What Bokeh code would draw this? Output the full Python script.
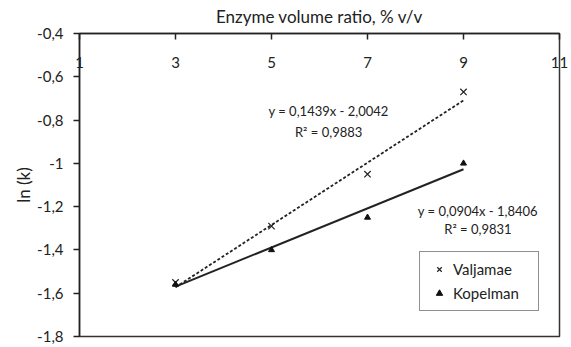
from bokeh.plotting import figure
from bokeh.models import (LinearAxis, FixedTicker, Range1d, Label, Legend, LegendItem)
from bokeh.embed import file_html
from bokeh.resources import INLINE

# ---- data ----
x_vals = [3, 5, 7, 9]
valjamae = [-1.55, -1.29, -1.05, -0.67]
kopelman = [-1.56, -1.40, -1.25, -1.00]
slopes = {"Valjamae": 0.1439, "Kopelman": 0.0904}
intercepts = {"Valjamae": -2.0042, "Kopelman": -1.8406}
r2 = {"Valjamae": "0,9883", "Kopelman": "0,9831"}
x_ticks = [1, 3, 5, 7, 9, 11]
y_ticks = [-1.8, -1.6, -1.4, -1.2, -1.0, -0.8, -0.6, -0.4]
y_tick_labels = ["-1,8", "-1,6", "-1,4", "-1,2", "-1", "-0,8", "-0,6", "-0,4"]
x_title = "Enzyme volume ratio, % v/v"
y_title = "ln (k)"

FONT = "Lato"
TXT = "#222222"

p = figure(width=571, height=347, output_backend="svg", toolbar_location=None,
           x_range=Range1d(1, 11), y_range=Range1d(-1.8, -0.4),
           x_axis_location=None, y_axis_location=None,
           min_border_left=79, min_border_right=12, min_border_top=33, min_border_bottom=11)
p.grid.visible = False
p.outline_line_color = "#333333"
p.outline_line_width = 1.5
p.background_fill_color = "white"
p.border_fill_color = "white"

xaxis = LinearAxis(ticker=FixedTicker(ticks=x_ticks), axis_label=x_title)
xaxis.major_tick_in = 6
xaxis.major_tick_out = 0
xaxis.minor_tick_in = 0
xaxis.minor_tick_out = 0
xaxis.major_label_standoff = -34
xaxis.axis_label_standoff = 27
xaxis.axis_line_color = "#222222"
xaxis.axis_line_width = 1.5
xaxis.major_tick_line_color = "#222222"
xaxis.major_tick_line_width = 1.5
xaxis.major_label_text_font = FONT
xaxis.major_label_text_font_size = "15px"
xaxis.major_label_text_color = TXT
xaxis.axis_label_text_font = FONT
xaxis.axis_label_text_font_size = "17px"
xaxis.axis_label_text_font_style = "normal"
xaxis.axis_label_text_color = TXT
p.add_layout(xaxis, "above")

yaxis = LinearAxis(ticker=FixedTicker(ticks=y_ticks), axis_label=y_title)
yaxis.major_label_overrides = {t: l for t, l in zip(y_ticks, y_tick_labels)}
yaxis.major_tick_in = 0
yaxis.major_tick_out = 6
yaxis.minor_tick_in = 0
yaxis.minor_tick_out = 0
yaxis.major_label_standoff = 10
yaxis.axis_label_standoff = 0
yaxis.axis_line_color = "#222222"
yaxis.axis_line_width = 1.5
yaxis.major_tick_line_color = "#222222"
yaxis.major_tick_line_width = 1.5
yaxis.major_label_text_font = FONT
yaxis.major_label_text_font_size = "15px"
yaxis.major_label_text_color = TXT
yaxis.axis_label_text_font = FONT
yaxis.axis_label_text_font_size = "17px"
yaxis.axis_label_text_font_style = "normal"
yaxis.axis_label_text_color = TXT
p.add_layout(yaxis, "left")

# trend lines
x0, x1 = min(x_vals), max(x_vals)
tx = [x0, x1]
tv = [slopes["Valjamae"] * x + intercepts["Valjamae"] for x in tx]
tk = [slopes["Kopelman"] * x + intercepts["Kopelman"] for x in tx]
p.line(tx, tv, line_color="#222222", line_width=1.8, line_dash="3 2")
p.line(tx, tk, line_color="#222222", line_width=2)

r_v = p.scatter(x_vals, valjamae, marker="x", size=9, line_color="#222222", line_width=1.2)
r_k = p.scatter(x_vals, kopelman, marker="triangle", size=6, fill_color="#111111",
                line_color="#111111")

def eq_text(name):
    b = intercepts[name]
    sign = "-" if b < 0 else "+"
    s = f"{slopes[name]:.4f}".replace(".", ",")
    bb = f"{abs(b):.4f}".replace(".", ",")
    return f"y = {s}x {sign} {bb}"

for name, (lx, ly1, ly2) in {"Valjamae": (6.19, -0.756, -0.857),
                             "Kopelman": (9.30, -1.218, -1.305)}.items():
    p.add_layout(Label(x=lx, y=ly1, text=eq_text(name), text_align="center",
                       text_baseline="middle", text_font=FONT, text_font_size="13px",
                       text_color=TXT))
    p.add_layout(Label(x=lx, y=ly2, text=f"R² = {r2[name]}", text_align="center",
                       text_baseline="middle", text_font=FONT, text_font_size="13px",
                       text_color=TXT))

legend = Legend(items=[LegendItem(label="Valjamae", renderers=[r_v]),
                       LegendItem(label="Kopelman", renderers=[r_k])],
                location=(340, 25))
legend.border_line_color = "#222222"
legend.border_line_width = 1
legend.padding = 8
legend.margin = 0
legend.spacing = 6
legend.glyph_width = 22
legend.glyph_height = 16
legend.label_standoff = 3
legend.label_width = 77
legend.label_height = 18
legend.label_text_font = FONT
legend.label_text_font_size = "15px"
legend.label_text_color = TXT
legend.background_fill_alpha = 1
p.add_layout(legend, "center")

open("out.html", "w").write(file_html(p, INLINE))
